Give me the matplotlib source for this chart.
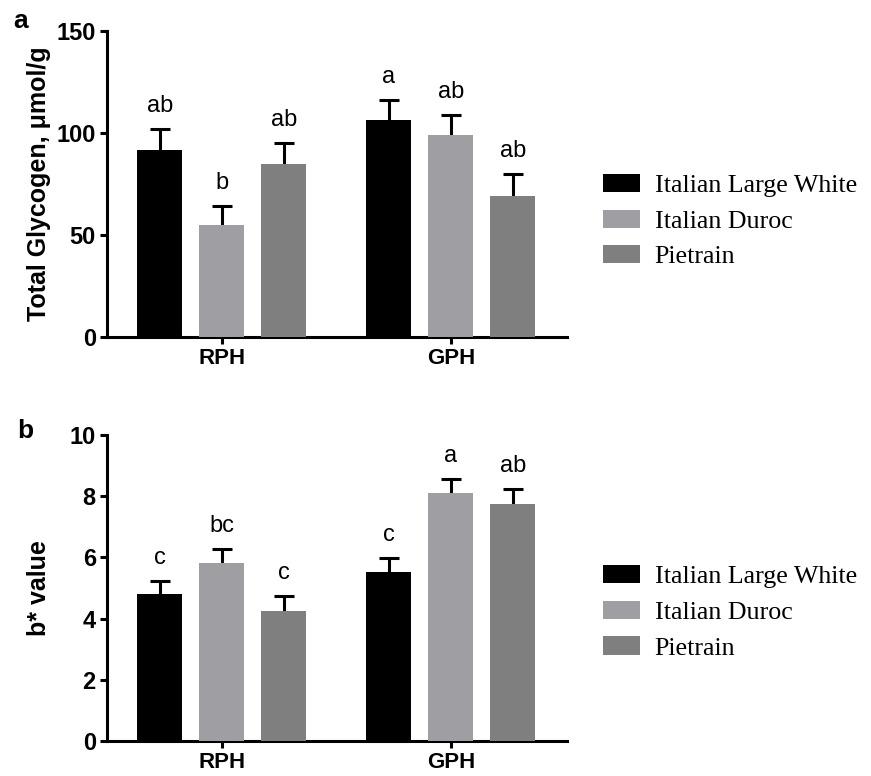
import numpy as np
import matplotlib.pyplot as plt
from matplotlib.patches import Patch

groups = ["RPH", "GPH"]
breeds = ["Italian Large White", "Italian Duroc", "Pietrain"]
colors = ["#000000", "#9f9fa3", "#7f7f7f"]

# total glycogen, umol/g (mean, SE) per breed, for RPH and GPH
glyco_mean = [[91.7, 106.4], [54.9, 99.0], [84.8, 69.1]]
glyco_err = [[10.2, 9.8], [9.3, 9.8], [10.3, 10.9]]
glyco_letters = [["ab", "a"], ["b", "ab"], ["ab", "ab"]]

# b* value
bstar_mean = [[4.80, 5.52], [5.82, 8.10], [4.25, 7.74]]
bstar_err = [[0.43, 0.46], [0.45, 0.46], [0.49, 0.50]]
bstar_letters = [["c", "c"], ["bc", "a"], ["c", "ab"]]

SANS = "Liberation Sans"
SERIF = "Liberation Serif"


def draw_panel(ax, means, errs, letters, ylim, yticks, ylabel):
    x = np.arange(len(groups))
    width = 0.197
    step = 0.271
    for i, breed in enumerate(breeds):
        xi = x + (i - 1) * step
        m = np.array(means[i])
        e = np.array(errs[i])
        ax.bar(xi, m, width, color=colors[i], zorder=3, label=breed)
        _, caps, _ = ax.errorbar(xi, m, yerr=[np.zeros_like(e), e], fmt="none",
                                 ecolor="black", elinewidth=2.2, capsize=7,
                                 capthick=2.2, zorder=2)
        caps[0].set_visible(False)
        for xx, top, lab in zip(xi, m + e, letters[i]):
            ax.annotate(lab, (xx, top), xytext=(0, 12), textcoords="offset points",
                        ha="center", va="baseline", fontsize=17, family=SANS)

    ax.set_xlim(-0.502, 1.507)
    ax.set_ylim(*ylim)
    ax.set_yticks(yticks)
    ax.set_xticks(x)
    ax.set_xticklabels(groups)
    for s in ["top", "right"]:
        ax.spines[s].set_visible(False)
    for s in ["left", "bottom"]:
        ax.spines[s].set_linewidth(2.2)
    ax.tick_params(width=2.2, length=5, pad=3)
    ax.tick_params(axis="y", labelsize=17)
    ax.tick_params(axis="x", labelsize=16)
    for lab in ax.get_xticklabels() + ax.get_yticklabels():
        lab.set_fontweight("bold")
        lab.set_family(SANS)
    ax.set_ylabel(ylabel, fontsize=18, fontweight="bold", family=SANS)
    ax.yaxis.set_label_coords(-0.122, 0.5)


fig = plt.figure(figsize=(8.71, 7.76), dpi=100)
ax1 = fig.add_axes([0.1228, 0.5657, 0.528, 0.3943])
ax2 = fig.add_axes([0.1228, 0.0451, 0.528, 0.3943])

draw_panel(ax1, glyco_mean, glyco_err, glyco_letters, (0, 150), [0, 50, 100, 150],
           "Total Glycogen, \u03bcmol/g")
draw_panel(ax2, bstar_mean, bstar_err, bstar_letters, (0, 10), [0, 2, 4, 6, 8, 10],
           "b* value")

handles = [Patch(facecolor=c, edgecolor="none") for c in colors]
for yc in [0.715, 0.211]:
    fig.legend(handles, breeds, loc="center left", bbox_to_anchor=(0.692, yc),
               frameon=False, prop={"family": SERIF, "size": 18.7},
               handlelength=1.42, handleheight=0.7, handletextpad=0.58,
               labelspacing=0.48, borderpad=0, borderaxespad=0)

fig.text(13 / 871, 1 - 28 / 776, "a", fontsize=19, fontweight="bold", family=SANS)
fig.text(17 / 871, 1 - 438 / 776, "b", fontsize=19, fontweight="bold", family=SANS)

fig.savefig("out.png", dpi=100)
